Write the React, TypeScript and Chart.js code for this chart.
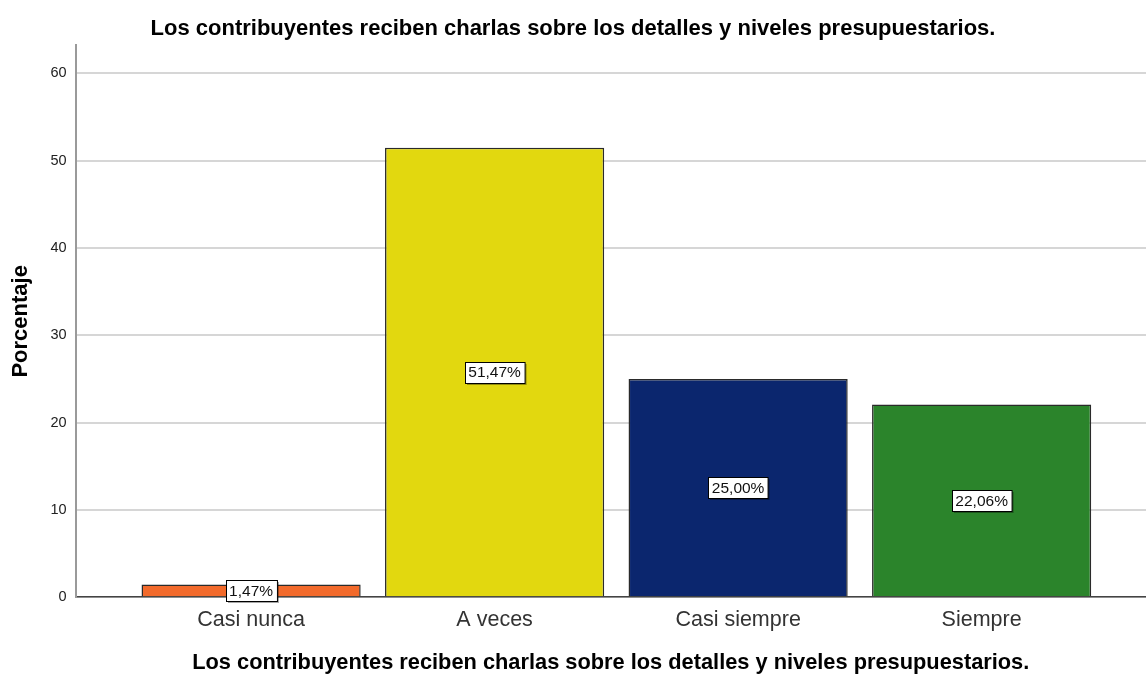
import React, { useEffect, useRef } from "react";
import { Chart, registerables } from "chart.js";

Chart.register(...registerables);

const categories = ["Casi nunca", "A veces", "Casi siempre", "Siempre"];
const percentages = [1.47, 51.47, 25.0, 22.06];
const percentLabels = ["1,47%", "51,47%", "25,00%", "22,06%"];
const barColors = ["#f26a2b", "#e2d80f", "#0b266e", "#2b842b"];
const yTicks = [0, 10, 20, 30, 40, 50, 60];
const chartTitle = "Los contribuyentes reciben charlas sobre los detalles y niveles presupuestarios.";
const xTitle = "Los contribuyentes reciben charlas sobre los detalles y niveles presupuestarios.";
const yTitle = "Porcentaje";

const FONT = 'Arial, "Liberation Sans", sans-serif';

const labelPlugin = {
  id: "boxLabels",
  afterDatasetsDraw(chart: any) {
    const ctx = chart.ctx;
    const meta = chart.getDatasetMeta(0);
    ctx.save();
    ctx.font = `15.5px ${FONT}`;
    ctx.textAlign = "center";
    ctx.textBaseline = "middle";
    meta.data.forEach((bar: any, i: number) => {
      const text = percentLabels[i];
      const cx = bar.x;
      const cy = (bar.y + bar.base) / 2;
      const w = ctx.measureText(text).width + 7;
      const h = 21;
      const x0 = Math.round(cx - w / 2) + 0.5;
      const y0 = Math.round(cy - h / 2) + 0.5;
      ctx.fillStyle = "rgba(0,0,0,0.35)";
      ctx.fillRect(x0 + 1.5, y0 + 1.5, w, h);
      ctx.fillStyle = "#ffffff";
      ctx.fillRect(x0, y0, w, h);
      ctx.strokeStyle = "#000000";
      ctx.lineWidth = 1;
      ctx.strokeRect(x0, y0, w, h);
      ctx.fillStyle = "#111111";
      ctx.fillText(text, cx, cy + 1);
    });
    ctx.restore();
  },
};

export default function App() {
  const ref = useRef<HTMLCanvasElement | null>(null);

  useEffect(() => {
    if (!ref.current) return;
    const chart = new Chart(ref.current, {
      type: "bar",
      data: {
        datasets: [
          {
            data: percentages.map((v, i) => ({ x: i, y: v })),
            backgroundColor: barColors,
            borderColor: "#2a2a2a",
            borderWidth: 1.5,
            barPercentage: 0.9,
            categoryPercentage: 1,
          },
        ],
      },
      options: {
        animation: false,
        responsive: false,
        layout: { padding: { left: 0, right: 0, top: 0, bottom: 0 } },
        plugins: {
          legend: { display: false },
          tooltip: { enabled: false },
          title: {
            display: true,
            text: chartTitle,
            color: "#000000",
            font: { family: FONT, size: 22, weight: "bold" },
            padding: { top: 16, bottom: 3 },
          },
        },
        scales: {
          x: {
            type: "linear",
            offset: false,
            min: -0.721,
            max: 3.675,
            afterBuildTicks: (scale: any) => {
              scale.ticks = categories.map((_, i) => ({ value: i }));
            },
            ticks: {
              callback: (value: any) => categories[value as number] ?? "",
              color: "#333333",
              font: { family: FONT, size: 21.5 },
              padding: 10,
              maxRotation: 0,
              autoSkip: false,
            },
            grid: { display: false, drawTicks: false },
            border: { display: true, color: "#444444", width: 1.5 },
            title: {
              display: true,
              text: xTitle,
              color: "#000000",
              font: { family: FONT, size: 21.8, weight: "bold", lineHeight: 1.1 },
              padding: { top: 8, bottom: 0 },
            },
          },
          y: {
            min: 0,
            max: 63.2,
            afterBuildTicks: (scale: any) => {
              scale.ticks = yTicks.map((v) => ({ value: v }));
            },
            ticks: {
              color: "#222222",
              font: { family: FONT, size: 14.5 },
              padding: 9,
            },
            grid: { color: "#d6d6d6", lineWidth: 2, drawTicks: false },
            border: { display: true, color: "#9a9a9a", width: 2 },
            title: {
              display: true,
              text: yTitle,
              color: "#000000",
              font: { family: FONT, size: 22, weight: "bold" },
              padding: { top: 8, bottom: 7 },
            },
          },
        },
      },
      plugins: [labelPlugin],
    } as any);
    return () => chart.destroy();
  }, []);

  return (
    <div style={{ position: "fixed", left: 0, top: 0, width: 1146, height: 675, background: "#ffffff" }}>
      <canvas ref={ref} width={1146} height={675} />
    </div>
  );
}
